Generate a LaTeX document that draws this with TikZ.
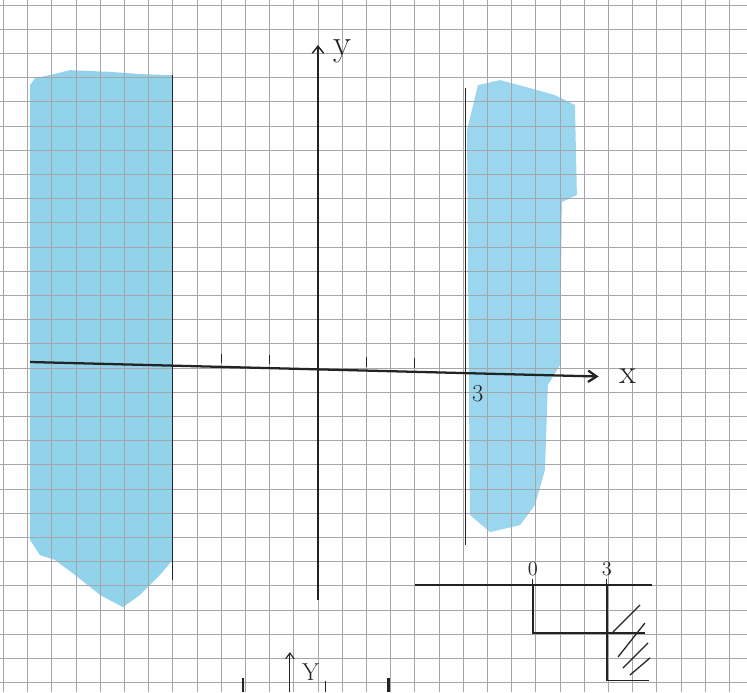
\documentclass[tikz,border=0pt]{standalone}
\usepackage{tikz}
\usetikzlibrary{arrows.meta,positioning}
\definecolor{gridgray}{RGB}{165,165,170}
\definecolor{crayonblue}{RGB}{100,192,228}
\definecolor{pencil}{RGB}{35,35,35}

\begin{document}
\begin{tikzpicture}[x=0.6cm,y=0.6cm]
\useasboundingbox (-13.14,-13.39) rectangle (17.73,15.21);
% Left shaded region: x < -3
\fill[crayonblue,opacity=0.7] (-11.9,11.69) -- (-11.69,11.98) -- (-11.07,12.11) -- (-10.25,12.31)
  -- (-8.6,12.24) -- (-7.36,12.15) -- (-6,12.1) -- (-6,-7.93) -- (-6.53,-8.55) -- (-7.36,-9.38)
  -- (-8.06,-9.88) -- (-9,-9.38) -- (-10.04,-8.55) -- (-10.87,-7.93) -- (-11.49,-7.73)
  -- (-11.9,-7.1) -- cycle;
% Right shaded region: x > 3
\fill[crayonblue,opacity=0.65] (6.16,9.83) -- (6.61,11.69) -- (7.52,11.9) -- (8.76,11.57)
  -- (9.79,11.28) -- (10.62,10.87) -- (10.7,7.15) -- (10.08,6.86) -- (10,0.12) -- (9.5,-0.7)
  -- (9.38,-4.21) -- (8.97,-5.66) -- (8.35,-6.49) -- (7.11,-6.78) -- (6.28,-6.07) -- cycle;
% Squared paper
\draw[gridgray,line width=0.6pt,step=0.6cm] (-13.14,-13.39) grid (17.73,15.21);
% Axes
\coordinate (xstart) at (-11.9,0.25);
\coordinate (xend) at (11.6,-0.35);
\coordinate (ystart) at (0,-9.6);
\coordinate (yend) at (0,13.35);
\draw[pencil,line width=1.6pt,-{Straight Barb[length=6pt,width=8pt]}] (xstart) -- (xend);
\draw[pencil,line width=1pt,-{Straight Barb[length=5pt,width=8pt]}] (ystart) -- (yend);
\node[font=\fontsize{26}{28}\selectfont,pencil] (ylabel) at (1.0,13.1) {y};
\node[font=\fontsize{24}{26}\selectfont,pencil] (xlabel) at (12.8,-0.35) {x};
% Ticks
\foreach \t in {-4,-2,2,4}
  \draw[pencil,line width=0.6pt] (\t,{0.1-0.025*\t}) -- ++(0,0.4);
% Vertical lines x = -3 and x = 3
\coordinate (ltop) at (-6,12.1);
\coordinate (lbot) at (-6,-8.76);
\coordinate (rtop) at (6.1,11.57);
\coordinate (rbot) at (6.1,-7.3);
\draw[pencil,line width=0.9pt] (ltop) -- (lbot);
\draw[pencil,line width=0.9pt] (rtop) -- (rbot);
\node[font=\LARGE,pencil] (three) at (6.6,-1.05) {3};
% Sign chart
\coordinate (sa) at (4.0,-8.97);
\coordinate (sb) at (13.8,-8.97);
\coordinate (zero) at (8.88,-8.97);
\coordinate (thr) at (11.94,-8.97);
\draw[pencil,line width=1pt] (sa) -- (sb);
\foreach \c in {zero,thr}
  \draw[pencil,line width=0.8pt] ([yshift=-4pt]\c) -- ([yshift=4pt]\c);
\node[font=\Large,pencil,above=3pt of zero] (zerolabel) {0};
\node[font=\Large,pencil,above=3pt of thr] (thrlabel) {3};
\draw[pencil,line width=1pt] (zero) -- (8.88,-10.95) -- (13.5,-10.95);
\draw[pencil,line width=1pt] (thr) -- (11.94,-12.9) -- (13.7,-12.9);
\foreach \a/\b in {{(12.19,-10.91)}/{(13.31,-9.79)},{(12.4,-11.94)}/{(13.51,-10.54)},
                   {(12.6,-12.4)}/{(13.64,-11.36)},{(12.89,-12.69)}/{(13.72,-11.98)}}
  \draw[pencil,line width=0.9pt] \a -- \b;
% Next sketch (cut off at the bottom)
\coordinate (ybot) at (-1.16,-13.39);
\coordinate (ytop) at (-1.16,-11.74);
\draw[pencil,line width=0.8pt,-{Straight Barb[length=4pt,width=6pt]}] (ybot) -- (ytop);
\node[font=\LARGE,pencil] (ylabeltwo) at (-0.3,-12.55) {Y};
\draw[pencil,line width=2pt] (-3.1,-12.8) -- (-3.1,-13.39);
\draw[pencil,line width=1pt] (0.3,-12.95) -- (0.3,-13.39);
\draw[pencil,line width=2pt] (2.9,-12.8) -- (2.9,-13.39);
\end{tikzpicture}
\end{document}
